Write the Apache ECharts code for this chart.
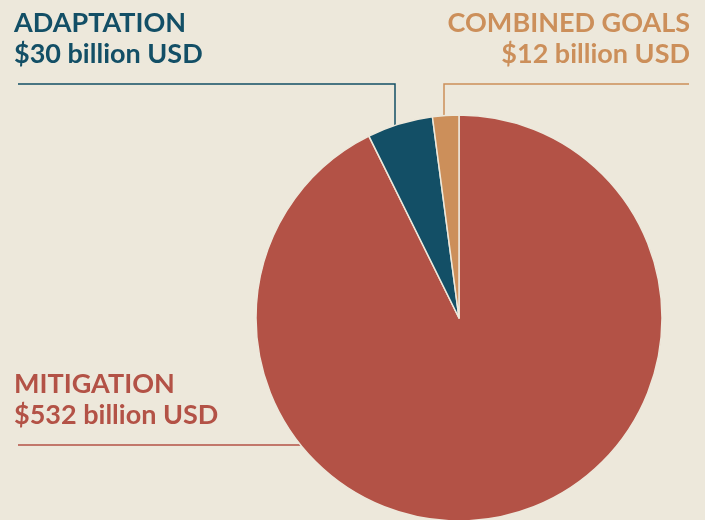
<!DOCTYPE html>
<html><head><meta charset="utf-8">
<script src="https://cdn.jsdelivr.net/npm/echarts@6/dist/echarts.min.js"></script>
<style>html,body{margin:0;padding:0;background:#ede8db;}#c{width:705px;height:520px;}</style>
</head><body><div id="c"></div>
<script>
const categories = ['MITIGATION', 'ADAPTATION', 'COMBINED GOALS'];
const values = [532, 30, 12];
const valueLabels = ['$532 billion USD', '$30 billion USD', '$12 billion USD'];
const colors = ['#b35246', '#134f66', '#cc8f5a'];

const cx = 459, cy = 318, R = 203;
const layouts = [
  {x: 14, y: 369, align: 'left', lineY: 445, anchorX: null, endX: 18},
  {x: 14, y: 8, align: 'left', lineY: 84, anchorX: 395, endX: 18},
  {x: 690, y: 8, align: 'right', lineY: 84, anchorX: 444, endX: 689}
];

const chart = echarts.init(document.getElementById('c'));
chart.setOption({
  backgroundColor: '#ede8db',
  animation: false,
  series: [{
    type: 'pie',
    center: [cx, cy],
    radius: [0, R],
    startAngle: 90,
    clockwise: true,
    data: categories.map((n, i) => ({
      name: n, value: values[i],
      itemStyle: {color: colors[i]},
      label: {color: colors[i]},
      labelLine: {lineStyle: {color: colors[i]}}
    })),
    itemStyle: {borderColor: '#ede8db', borderWidth: 1.5},
    label: {
      show: true,
      alignTo: 'none',
      overflow: 'none',
      width: 400,
      formatter: p => p.name + '\n' + valueLabels[p.dataIndex],
      fontFamily: 'Lato',
      fontWeight: 'bold',
      fontSize: 27,
      lineHeight: 31
    },
    labelLine: {show: true, smooth: false, lineStyle: {width: 1.5}},
    labelLayout: function (p) {
      const L = layouts[p.dataIndex];
      let pts;
      if (L.anchorX === null) {
        const ax = cx - Math.sqrt(R * R - (L.lineY - cy) * (L.lineY - cy));
        pts = [[ax, L.lineY], [(ax + L.endX) / 2, L.lineY], [L.endX, L.lineY]];
      } else {
        const ay = cy - Math.sqrt(R * R - (L.anchorX - cx) * (L.anchorX - cx));
        pts = [[L.anchorX, ay], [L.anchorX, L.lineY], [L.endX, L.lineY]];
      }
      return {x: L.x, y: L.y, align: L.align, verticalAlign: 'top', labelLinePoints: pts};
    }
  }]
});
</script></body></html>
